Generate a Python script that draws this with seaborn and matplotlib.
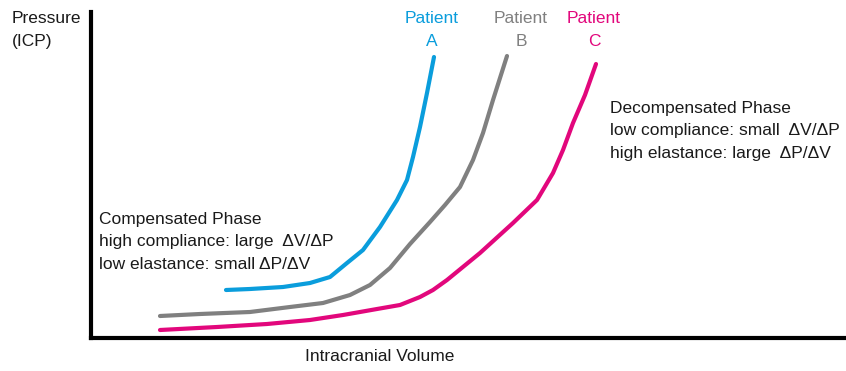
import numpy as np
import pandas as pd
import matplotlib.pyplot as plt
import seaborn as sns

# curve points (x = volume, y = pressure, arbitrary units)
vol_a = [226, 250, 283, 310, 330, 347, 363, 380, 397, 407, 413, 420, 427, 434]
icp_a = [81, 82, 84, 88, 94, 108, 121, 144, 171, 191, 214, 244, 278, 314]
vol_b = [160, 200, 250, 290, 323, 350, 370, 390, 410, 430, 445, 460, 473, 483, 493, 507]
icp_b = [55, 57, 59, 64, 68, 76, 86, 103, 127, 149, 166, 184, 211, 238, 271, 315]
vol_c = [160, 217, 267, 310, 343, 377, 400, 420, 433, 447, 480, 513, 537, 553, 563, 573, 585, 596]
icp_c = [41, 44, 47, 51, 56, 62, 66, 74, 81, 91, 118, 148, 171, 198, 221, 248, 276, 307]

patients = ['A', 'B', 'C']
colors = {'A': '#0a9ddc', 'B': '#808080', 'C': '#e2077c'}

df = pd.concat([
    pd.DataFrame({'volume': vol_a, 'icp': icp_a, 'patient': 'A'}),
    pd.DataFrame({'volume': vol_b, 'icp': icp_b, 'patient': 'B'}),
    pd.DataFrame({'volume': vol_c, 'icp': icp_c, 'patient': 'C'}),
])

sns.set_style('white')
plt.rcParams['font.family'] = ['Liberation Sans', 'DejaVu Sans']

fig = plt.figure(figsize=(8.46, 3.71), dpi=100)
ax = fig.add_axes([91 / 846, 33 / 371, 755 / 846, 326 / 371])

sns.lineplot(data=df, x='volume', y='icp', hue='patient', palette=colors,
             sort=False, estimator=None, linewidth=3, legend=False, ax=ax,
             solid_capstyle='round', solid_joinstyle='round')

ax.set_xlim(91, 846)
ax.set_ylim(33, 359)
ax.set_xticks([])
ax.set_yticks([])
ax.set_xlabel('')
ax.set_ylabel('')
for s in ['top', 'right']:
    ax.spines[s].set_visible(False)
for s in ['left', 'bottom']:
    ax.spines[s].set_color('black')
    ax.spines[s].set_linewidth(3)

fs = 12.5
# patient labels above each curve end
label_x = {'A': 432, 'B': 521, 'C': 594}
for p in patients:
    ax.text(label_x[p], 360, 'Patient\n' + p, color=colors[p], ha='center',
            va='top', fontsize=fs, linespacing=1.65)

ax.text(99, 159, 'Compensated Phase\nhigh compliance: large  ΔV/ΔP\nlow elastance: small ΔP/ΔV',
        ha='left', va='top', fontsize=fs, linespacing=1.62, color='#1a1a1a')
ax.text(610, 270, 'Decompensated Phase\nlow compliance: small  ΔV/ΔP\nhigh elastance: large  ΔP/ΔV',
        ha='left', va='top', fontsize=fs, linespacing=1.62, color='#1a1a1a')

fig.text(12 / 846, 1 - 11 / 371, 'Pressure\n(ICP)', ha='left', va='top',
         fontsize=fs, linespacing=1.65, color='#1a1a1a')
fig.text(380 / 846, 1 - 349 / 371, 'Intracranial Volume', ha='center', va='top',
         fontsize=fs, color='#1a1a1a')

fig.savefig('out.png', dpi=100)
